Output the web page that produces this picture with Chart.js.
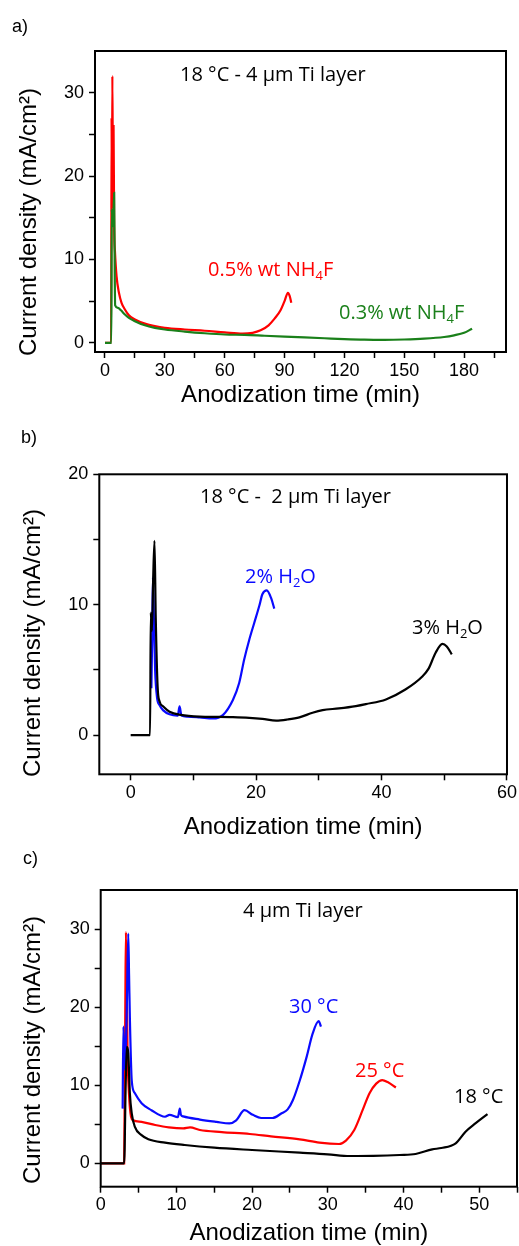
<!DOCTYPE html>
<html>
<head>
<meta charset="utf-8">
<script src="https://cdn.jsdelivr.net/npm/chart.js@4.4.1/dist/chart.umd.min.js"></script>
<style>
  html, body { margin: 0; padding: 0; background: #fff; }
  #page { position: relative; width: 519px; height: 1246px; overflow: hidden; }
  .panel { position: absolute; left: 0; width: 519px; }
</style>
</head>
<body>
<div id="page">
  <div class="panel" style="top:0;height:420px"><canvas id="chartA"></canvas></div>
  <div class="panel" style="top:415px;height:430px"><canvas id="chartB"></canvas></div>
  <div class="panel" style="top:830px;height:420px"><canvas id="chartC"></canvas></div>
</div>
<script>
// ---- panel a) 18 °C - 4 µm Ti layer, NH4F concentration ----
const timeA05 = [0, 3.1, 3.3, 3.5, 3.7, 4.0, 4.3, 4.6, 5.0, 5.8, 7.0, 8.3, 10, 12, 15, 20, 25, 30, 40, 50, 60, 69, 74, 78, 82, 85, 88, 90, 91.7, 92.6, 93.4];
const curA05  = [0, 0, 27, 16, 32, 20, 26, 14, 11, 8, 6, 4.8, 4, 3.3, 2.8, 2.3, 2.0, 1.8, 1.6, 1.45, 1.25, 1.1, 1.2, 1.5, 2.1, 2.9, 3.9, 5.0, 6.0, 5.6, 4.8];
const timeA03 = [0, 3.2, 3.4, 4.0, 4.6, 4.9, 5.1, 6.5, 8, 10, 12, 15, 20, 25, 30, 40, 50, 60, 70, 80, 90, 100, 110, 120, 130, 140, 150, 160, 170, 175, 180, 184];
const curA03  = [0, 0, 16, 14, 18, 8, 4.5, 4.2, 3.9, 3.4, 3.0, 2.6, 2.1, 1.8, 1.6, 1.35, 1.15, 1.0, 0.95, 0.85, 0.75, 0.65, 0.55, 0.45, 0.38, 0.36, 0.4, 0.5, 0.7, 0.9, 1.2, 1.7];
const xTicksA = [0, 15, 30, 45, 60, 75, 90, 105, 120, 135, 150, 165, 180, 195];
const xLabelsA = [0, 30, 60, 90, 120, 150, 180];
const yTicksA = [0, 5, 10, 15, 20, 25, 30];
const yLabelsA = [0, 10, 20, 30];

// ---- panel b) 18 °C - 2 µm Ti layer, water content ----
const timeB3 = [0, 3.1, 3.2, 3.4, 3.6, 3.8, 4.0, 4.3, 4.6, 5.2, 6.2, 8, 11, 14, 16.3, 18.9, 21, 23.2, 25, 26.9, 29, 30.6, 33.2, 35.9, 37.5, 40.7, 43.8, 46.5, 47.5, 48.6, 49.7, 50.4, 51.2];
const curB3  = [0, 0, 9.4, 8, 12.2, 14.9, 9, 3.7, 2.6, 2.2, 1.8, 1.55, 1.42, 1.4, 1.38, 1.33, 1.25, 1.12, 1.2, 1.36, 1.72, 1.92, 2.05, 2.23, 2.38, 2.74, 3.5, 4.5, 5.1, 6.3, 7.0, 6.8, 6.2];
const timeB2 = [3.3, 3.45, 3.55, 3.7, 3.9, 4.2, 4.6, 5.2, 6.2, 7.5, 7.8, 8.1, 9, 11, 13.1, 14.7, 16.3, 17.3, 18.1, 18.9, 19.7, 20.5, 21.0, 21.7, 22.4, 22.9];
const curB2  = [3.6, 8, 12.1, 9, 5, 2.9, 2.3, 1.9, 1.6, 1.5, 2.2, 1.5, 1.42, 1.36, 1.28, 1.54, 2.7, 4.0, 5.8, 7.3, 8.6, 9.9, 10.8, 11.1, 10.5, 9.7];
const xTicksB = [0, 10, 20, 30, 40, 50, 60];
const xLabelsB = [0, 20, 40, 60];
const yTicksB = [0, 5, 10, 15, 20];
const yLabelsB = [0, 10, 20];

// ---- panel c) 4 µm Ti layer, temperature ----
const timeC25 = [0, 3.1, 3.25, 3.33, 3.45, 3.55, 3.73, 4.0, 4.3, 5.4, 7.2, 9, 10.9, 11.8, 13.1, 16, 19.7, 22.5, 26.3, 28.9, 31.5, 32.4, 33.5, 34.6, 35.5, 36.4, 37.2, 37.9, 39.0];
const curC25  = [0, 0, 20, 29.6, 22, 14, 9, 6.0, 5.5, 5.3, 4.9, 4.6, 4.47, 4.6, 4.26, 4.0, 3.75, 3.45, 3.07, 2.64, 2.47, 2.9, 4.26, 6.8, 8.95, 10.2, 10.65, 10.4, 9.7];
const timeC30 = [2.9, 3.0, 3.2, 3.45, 3.64, 3.75, 3.86, 4.1, 4.5, 5.4, 6.7, 8.5, 9.1, 10.2, 10.45, 10.6, 10.9, 13.1, 15.3, 17.0, 17.9, 19.0, 20.1, 21.2, 22.7, 23.9, 24.7, 25.4, 26.3, 27.2, 28.0, 28.8, 29.1];
const curC30  = [7, 17.5, 12, 20, 29.4, 24, 18.3, 10.6, 9.0, 7.7, 6.8, 5.96, 6.2, 5.9, 7.0, 6.2, 6.0, 5.6, 5.3, 5.1, 5.5, 6.8, 6.2, 5.8, 5.8, 6.4, 6.9, 8.1, 10.6, 13.6, 16.6, 18.2, 17.5];
const timeC18 = [0, 3.1, 3.3, 3.45, 3.64, 3.85, 4.1, 4.5, 5.4, 6.3, 8.5, 11.1, 15, 20, 26.3, 30, 32.9, 36, 39.5, 41.6, 43.8, 45, 46.9, 48.2, 49.5, 51.1];
const curC18  = [0, 0, 10, 14.9, 14.1, 9, 6.4, 4.7, 3.6, 3.07, 2.64, 2.34, 2.0, 1.7, 1.36, 1.15, 0.93, 0.95, 1.06, 1.19, 1.79, 1.95, 2.56, 4.04, 5.1, 6.3];
const xTicksC = [0, 5, 10, 15, 20, 25, 30, 35, 40, 45, 50, 55];
const xLabelsC = [0, 10, 20, 30, 40, 50];
const yTicksC = [0, 5, 10, 15, 20, 25, 30];
const yLabelsC = [0, 10, 20, 30];

const RED = '#ff0000', GREEN = '#1a801a', BLUE = '#0a0aff', BLACK = '#000000';
const X_TITLE = 'Anodization time (min)';
const Y_TITLE = 'Current density (mA/cm\u00B2)';
const SANS = '"Liberation Sans", Arial, sans-serif';
const NOTE = '"Open Sans", sans-serif';

function points(xs, ys) { return xs.map((x, i) => ({ x: x, y: ys[i] })); }

function line(label, xs, ys, color) {
    return { label, data: points(xs, ys), borderColor: color, borderWidth: 2.2,
             pointRadius: 0, cubicInterpolationMode: 'monotone', fill: false };
}

// text with optional subscripts: parts = ['0.5% wt NH', {sub: '4'}, 'F']
function drawRich(ctx, parts, x, y, color, size) {
    ctx.fillStyle = color;
    ctx.textAlign = 'left';
    ctx.textBaseline = 'alphabetic';
    parts.forEach(p => {
        const sub = typeof p === 'object';
        const s = sub ? p.sub : p;
        ctx.font = (sub ? size * 0.65 : size) + 'px ' + NOTE;
        ctx.fillText(s, x, sub ? y + size * 0.22 : y);
        x += ctx.measureText(s).width;
    });
}

function decor(cfg) {
    return {
        id: 'decor',
        afterDraw(chart) {
            const { ctx, chartArea: a } = chart;
            ctx.save();
            ctx.strokeStyle = '#000';
            ctx.lineWidth = 2;
            ctx.strokeRect(a.left, a.top, a.right - a.left, a.bottom - a.top);

            ctx.fillStyle = '#000';
            ctx.font = '18px ' + SANS;
            ctx.textAlign = 'left';
            ctx.textBaseline = 'alphabetic';
            ctx.fillText(cfg.letter, cfg.letterX, cfg.letterY);

            ctx.save();
            ctx.translate(cfg.yTitleX, cfg.yTitleY);
            ctx.rotate(-Math.PI / 2);
            ctx.textAlign = 'center';
            ctx.textBaseline = 'middle';
            ctx.font = '24px ' + SANS;
            ctx.fillText(Y_TITLE, 0, 0);
            ctx.restore();

            cfg.notes.forEach(n => drawRich(ctx, n.parts, n.x, n.y, n.color, 20));
            ctx.restore();
        }
    };
}

function makeChart(id, c) {
    const canvas = document.getElementById(id);
    const H = canvas.parentNode.clientHeight;
    const padBottom = 2, padLeft = 4;
    const xAxisH = H - padBottom - c.area.bottom;
    const yAxisW = c.area.left - padLeft;
    return new Chart(canvas, {
        type: 'line',
        data: { datasets: c.datasets },
        options: {
            responsive: true,
            maintainAspectRatio: false,
            animation: false,
            layout: { padding: { left: padLeft, right: 519 - c.area.right, top: c.area.top, bottom: padBottom } },
            plugins: { legend: { display: false }, tooltip: { enabled: false } },
            scales: {
                x: {
                    type: 'linear', min: c.xMin, max: c.xMax,
                    afterBuildTicks: s => { s.ticks = c.xTicks.map(v => ({ value: v })); },
                    afterFit: s => { s.height = xAxisH; },
                    ticks: { autoSkip: false, maxRotation: 0, padding: 2, color: '#000',
                             font: { family: SANS, size: 18 },
                             callback: v => c.xLabels.includes(v) ? String(v) : '' },
                    grid: { drawOnChartArea: false, tickLength: 6, tickWidth: 1.5, tickColor: '#000' },
                    border: { display: false },
                    title: { display: true, text: X_TITLE, color: '#000',
                             font: { family: SANS, size: 24, lineHeight: 1.2 },
                             padding: { top: 0, bottom: c.xTitlePad } }
                },
                y: {
                    type: 'linear', min: c.yMin, max: c.yMax,
                    afterBuildTicks: s => { s.ticks = c.yTicks.map(v => ({ value: v })); },
                    afterFit: s => { s.width = yAxisW; },
                    ticks: { autoSkip: false, padding: 5, color: '#000',
                             font: { family: SANS, size: 18 },
                             callback: v => c.yLabels.includes(v) ? String(v) : '' },
                    grid: { drawOnChartArea: false, tickLength: 6, tickWidth: 1.5, tickColor: '#000' },
                    border: { display: false }
                }
            }
        },
        plugins: [decor(c.decor)]
    });
}

makeChart('chartA', {
    area: { left: 95, right: 506, top: 51, bottom: 352 },
    xMin: -5, xMax: 201, yMin: -1.1, yMax: 35,
    xTicks: xTicksA, xLabels: xLabelsA, yTicks: yTicksA, yLabels: yLabelsA,
    xTitlePad: 8,
    datasets: [
        line('0.3% wt NH4F', timeA03, curA03, GREEN),
        line('0.5% wt NH4F', timeA05, curA05, RED)
    ],
    decor: {
        letter: 'a)', letterX: 12, letterY: 32, yTitleX: 29, yTitleY: 222,
        notes: [
            { parts: ['18 \u00B0C - 4 \u00B5m Ti layer'], x: 180, y: 81, color: '#000' },
            { parts: ['0.5% wt NH', { sub: '4' }, 'F'], x: 208, y: 276, color: RED },
            { parts: ['0.3% wt NH', { sub: '4' }, 'F'], x: 339, y: 319, color: GREEN }
        ]
    }
});

makeChart('chartB', {
    area: { left: 99.3, right: 509, top: 59.3, bottom: 359.3 },
    xMin: -5, xMax: 60, yMin: -3, yMax: 20,
    xTicks: xTicksB, xLabels: xLabelsB, yTicks: yTicksB, yLabels: yLabelsB,
    xTitlePad: 1,
    datasets: [
        line('3% H2O', timeB3, curB3, BLACK),
        line('2% H2O', timeB2, curB2, BLUE)
    ],
    decor: {
        letter: 'b)', letterX: 21, letterY: 28, yTitleX: 33, yTitleY: 228,
        notes: [
            { parts: ['18 \u00B0C -  2 \u00B5m Ti layer'], x: 200, y: 88, color: '#000' },
            { parts: ['2% H', { sub: '2' }, 'O'], x: 245, y: 168, color: BLUE },
            { parts: ['3% H', { sub: '2' }, 'O'], x: 412, y: 219, color: '#000' }
        ]
    }
});

makeChart('chartC', {
    area: { left: 100.7, right: 517.7, top: 60, bottom: 356.7 },
    xMin: 0, xMax: 55, yMin: -3, yMax: 35,
    xTicks: xTicksC, xLabels: xLabelsC, yTicks: yTicksC, yLabels: yLabelsC,
    xTitlePad: 0,
    datasets: [
        line('18 °C', timeC18, curC18, BLACK),
        line('30 °C', timeC30, curC30, BLUE),
        line('25 °C', timeC25, curC25, RED)
    ],
    decor: {
        letter: 'c)', letterX: 23, letterY: 34, yTitleX: 33, yTitleY: 220,
        notes: [
            { parts: ['4 \u00B5m Ti layer'], x: 243, y: 87, color: '#000' },
            { parts: ['30 \u00B0C'], x: 289, y: 183, color: BLUE },
            { parts: ['25 \u00B0C'], x: 355, y: 247, color: RED },
            { parts: ['18 \u00B0C'], x: 454, y: 273, color: '#000' }
        ]
    }
});
</script>
</body>
</html>
